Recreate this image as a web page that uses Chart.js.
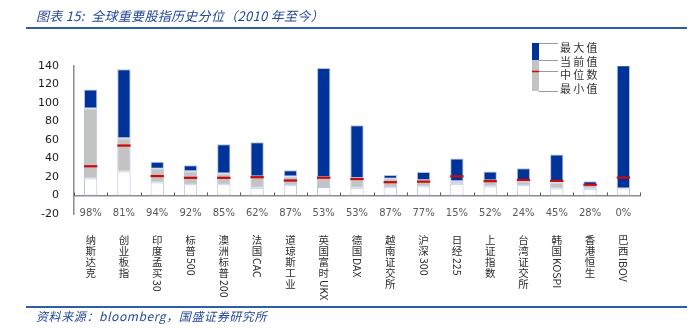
<!DOCTYPE html>
<html>
<head>
<meta charset="utf-8">
<script src="https://cdn.jsdelivr.net/npm/chart.js@4/dist/chart.umd.min.js"></script>
<style>
  html, body { margin: 0; padding: 0; background: #fff; }
  #wrap { position: relative; width: 688px; height: 329px; overflow: hidden; }
  #chart { position: absolute; left: 0; top: 0; }
  .title { position: absolute; left: 36px; top: 6px; font: italic 13px "Noto Sans CJK SC", sans-serif; color: #23479a; white-space: nowrap; letter-spacing: 0.3px; }
  .rule { position: absolute; left: 26px; width: 661px; height: 2px; background: #2e5ea8; }
  .foot { position: absolute; left: 36px; top: 307px; font: italic 12px "Noto Sans CJK SC", sans-serif; color: #23479a; white-space: nowrap; letter-spacing: 0.6px; }
</style>
</head>
<body>
<div id="wrap">
  <canvas id="chart" width="688" height="329"></canvas>
  <div class="title">图表 15:&nbsp; 全球重要股指历史分位（2010 年至今）</div>
  <div class="rule" style="top:27px"></div>
  <div class="rule" style="top:306px"></div>
  <div class="foot">资料来源：bloomberg，国盛证券研究所</div>
</div>
<script>
// index names and current percentile
const names = ['纳斯达克', '创业板指', '印度孟买30', '标普500', '澳洲标普200', '法国CAC', '道琼斯工业', '英国富时UKX',
    '德国DAX', '越南证交所', '沪深300', '日经225', '上证指数', '台湾证交所', '韩国KOSPI', '香港恒生', '巴西IBOV'];
const pctLabels = ['98%', '81%', '94%', '92%', '85%', '62%', '87%', '53%', '53%', '87%', '77%', '15%', '52%', '24%', '45%', '28%', '0%'];

// valuation since 2010
const minVals = [18.3, 26, 14, 12.2, 12.1, 8.5, 11, 9.2, 8.3, 9, 9.7, 12.8, 9.7, 11.2, 7.5, 7.2, 7.5];
const curVals = [94, 62, 29, 26.3, 23.7, 20.5, 20.5, 19.8, 18.8, 18, 16.5, 15.5, 16.3, 15.3, 14, 10.3, 7.5];
const medVals = [31.6, 54, 21, 19.1, 19.1, 19.8, 16.2, 19.2, 17.8, 14.4, 15, 20.7, 15.5, 16.8, 15.8, 11.6, 19.4];
const maxVals = [114.5, 136.5, 36.6, 32.7, 55.3, 57.5, 27.3, 137.9, 76, 22.2, 25.5, 40, 26, 29.5, 44.2, 15.5, 140.8];

const yTicks = [-20, 0, 20, 40, 60, 80, 100, 120, 140];
const legendItems = ['最大值', '当前值', '中位数', '最小值'];

const BLUE = '#003399';
const GREY = '#c3c3c3';
const RED = '#cc0a0a';
const EDGE = '#b8c4dc';

const medHalf = 1.2; // half thickness of median marker (in value units)

function barSet(label, lo, hi, color, order, edge) {
    return {
        label,
        data: lo.map((v, i) => [v, hi[i]]),
        backgroundColor: color,
        borderColor: edge ? EDGE : color,
        borderWidth: edge ? 1 : 0,
        borderSkipped: false,
        grouped: false,
        barPercentage: 0.4,
        categoryPercentage: 1,
        order
    };
}

// vertical labels: CJK upright, latin runs rotated
const nameLabels = {
    id: 'nameLabels',
    afterDraw(chart) {
        const { ctx, chartArea, scales: { x } } = chart;
        const pitch = 11;
        ctx.save();
        ctx.beginPath();
        ctx.rect(0, chartArea.bottom, chart.width, 302 - chartArea.bottom);
        ctx.clip();
        ctx.fillStyle = '#2b2b2b';
        ctx.font = '10.5px "Noto Sans CJK SC"';
        names.forEach((name, i) => {
            const cx = x.getPixelForValue(i);
            let y = chartArea.bottom + 21;
            const runs = name.match(/[A-Za-z0-9()]+|[^A-Za-z0-9()]/g);
            runs.forEach(r => {
                if (/^[A-Za-z0-9()]+$/.test(r)) {
                    const w = ctx.measureText(r).width;
                    ctx.save();
                    ctx.translate(cx, y + 1);
                    ctx.rotate(Math.PI / 2);
                    ctx.textAlign = 'left';
                    ctx.textBaseline = 'middle';
                    ctx.fillText(r, 0, 0);
                    ctx.restore();
                    y += w + 2;
                } else {
                    ctx.textAlign = 'center';
                    ctx.textBaseline = 'middle';
                    ctx.fillText(r, cx, y + pitch / 2);
                    y += pitch;
                }
            });
        });
        ctx.restore();

        // small category ticks pointing up from the zero line
        const y0 = chart.scales.y.getPixelForValue(0);
        ctx.save();
        ctx.strokeStyle = '#555';
        ctx.lineWidth = 1;
        for (let i = 0; i <= names.length; i++) {
            const tx = Math.round(x.getPixelForValue(i - 0.5)) + 0.5;
            ctx.beginPath();
            ctx.moveTo(tx, y0);
            ctx.lineTo(tx, y0 - 3);
            ctx.stroke();
        }
        ctx.restore();
    }
};

// the little bar-shaped legend at top right
const barLegend = {
    id: 'barLegend',
    afterDraw(chart) {
        const { ctx, chartArea } = chart;
        const sx = chartArea.right - 108;
        const top = 43, cur = 60, med = 71, bot = 91;
        ctx.save();
        ctx.fillStyle = BLUE;
        ctx.fillRect(sx, top, 7, cur - top);
        ctx.fillStyle = GREY;
        ctx.fillRect(sx, cur, 7, bot - cur);
        ctx.strokeStyle = '#9a9a9a';
        ctx.lineWidth = 1;
        [top, cur, med, bot].forEach(ly => {
            ctx.beginPath();
            ctx.moveTo(sx + 7, ly + 0.5);
            ctx.lineTo(sx + 26, ly + 0.5);
            ctx.stroke();
        });
        ctx.strokeStyle = RED;
        ctx.lineWidth = 1.5;
        ctx.beginPath();
        ctx.moveTo(sx, med + 0.5);
        ctx.lineTo(sx + 7, med + 0.5);
        ctx.stroke();
        ctx.fillStyle = '#333';
        ctx.font = '11px "Noto Sans CJK SC"';
        ctx.textAlign = 'left';
        ctx.textBaseline = 'middle';
        const textY = [48, 62, 75, 89];
        legendItems.forEach((t, i) => ctx.fillText(t.split('').join('\u2009'), sx + 28, textY[i]));
        ctx.restore();
    }
};

new Chart(document.getElementById('chart'), {
    type: 'bar',
    data: {
        labels: pctLabels,
        datasets: [
            barSet('最小值', minVals.map(() => 0), minVals, '#ffffff', 3, true),
            barSet('当前值', minVals, curVals, GREY, 2, true),
            barSet('最大值', curVals, maxVals, BLUE, 1, true),
            barSet('中位数', medVals.map(v => v - medHalf), medVals.map(v => v + medHalf), RED, 0, false)
        ]
    },
    options: {
        responsive: false,
        animation: false,
        layout: { padding: { left: 0, right: 48, top: 66, bottom: 115 } },
        plugins: { legend: { display: false }, tooltip: { enabled: false } },
        scales: {
            x: {
                position: { y: 0 },
                offset: true,
                grid: { display: false, drawTicks: false },
                border: { display: true, color: '#8c8c8c', width: 1.5 },
                ticks: { color: '#595959', font: { family: 'DejaVu Sans', size: 10 }, padding: 12, maxRotation: 0, autoSkip: false }
            },
            y: {
                min: -20,
                max: 140,
                afterBuildTicks: s => { s.ticks = yTicks.map(v => ({ value: v })); },
                afterFit: s => { s.width = 74; },
                grid: { display: false, drawTicks: false },
                border: { display: true, color: '#8c8c8c', width: 1.5 },
                ticks: { color: '#1a1a1a', font: { family: 'DejaVu Sans', size: 11 }, padding: 15 }
            }
        }
    },
    plugins: [nameLabels, barLegend]
});
</script>
</body>
</html>
